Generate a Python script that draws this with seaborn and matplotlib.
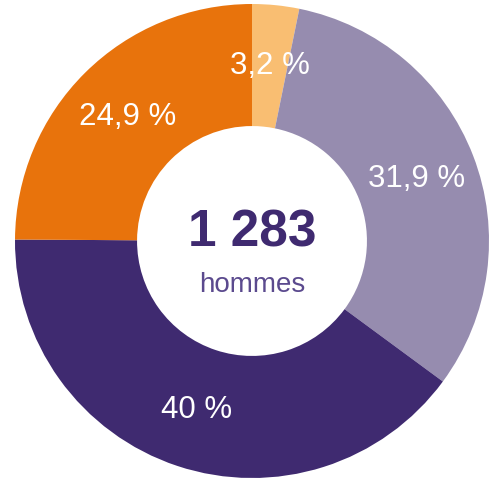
import numpy as np
import pandas as pd
import seaborn as sns
import matplotlib.pyplot as plt

# Repartition des hommes (total 1 283)
shares = [3.2, 31.9, 40.0, 24.9]
labels = ["3,2 %", "31,9 %", "40 %", "24,9 %"]
colors = ["#F9BE72", "#968CAF", "#3F2A70", "#E8730C"]
total_label = "1 283"
unit_label = "hommes"

sns.set_style("white")
plt.rcParams['font.family'] = ['Liberation Sans', 'DejaVu Sans']

fig = plt.figure(figsize=(4.94, 4.81), dpi=100)
ax = fig.add_axes([15 / 494, 2 / 481, 474 / 494, 474 / 481])

wedges, texts = ax.pie(shares, colors=colors, startangle=90, counterclock=False,
                       radius=1.0, wedgeprops={"width": 0.515, "linewidth": 0})

for w, lab in zip(wedges, labels):
    ang = np.deg2rad((w.theta1 + w.theta2) / 2)
    r = 0.745
    ax.text(r * np.cos(ang), r * np.sin(ang), lab, ha="center", va="center",
            color="white", fontsize=22.5)

ax.text(0, 0.04, total_label, ha="center", va="center", fontsize=37,
        fontweight="bold", color="#3F2A70")
ax.text(0, -0.18, unit_label, ha="center", va="center", fontsize=20,
        color="#5B4A8E")

ax.set_xlim(-1, 1)
ax.set_ylim(-1, 1)
ax.set_aspect("equal")
ax.axis("off")

fig.savefig("out.png", dpi=100)
